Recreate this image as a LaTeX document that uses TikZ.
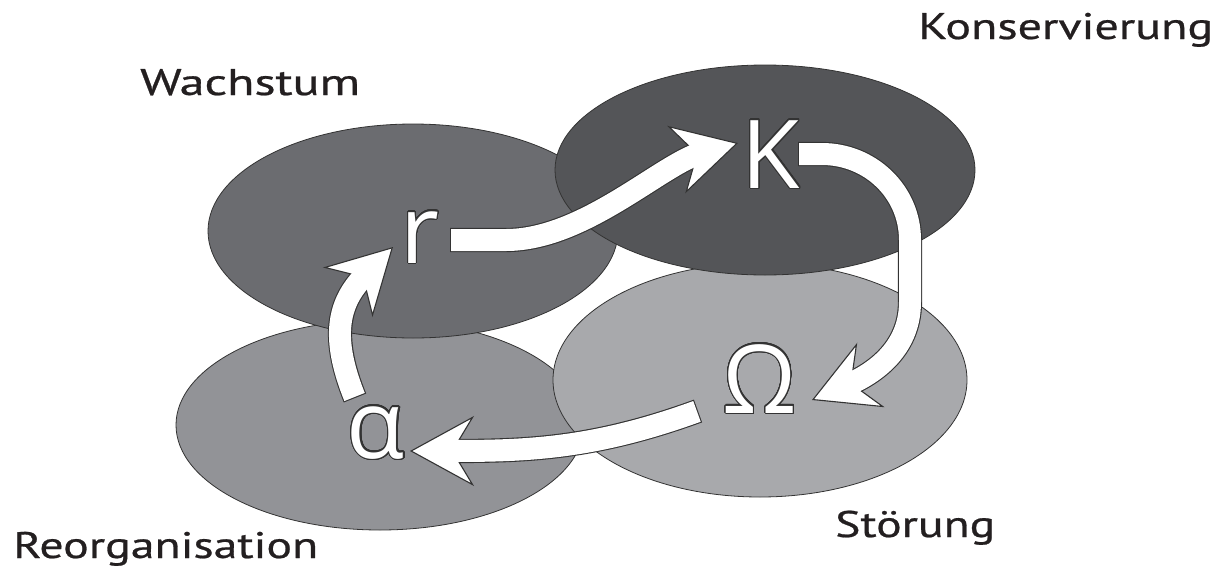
\documentclass[tikz,border=0pt]{standalone}
\usepackage{fontspec}
\usepackage{graphicx}
\usepackage{contour}
\usetikzlibrary{arrows.meta}
\newfontfamily\labfont[FakeBold=0.6]{PT Sans}
\newfontfamily\bigfont{Open Sans}
\contourlength{1.1pt}
\contournumber{40}
\definecolor{edge}{HTML}{333333}
\definecolor{cW}{HTML}{6B6C70}
\definecolor{cK}{HTML}{545558}
\definecolor{cR}{HTML}{929397}
\definecolor{cS}{HTML}{A8A9AC}
\definecolor{txt}{HTML}{231F20}
\newcommand\fatarrow[1]{%
  \draw[shaftout] #1;
  \draw[headonly] #1;
  \draw[shaftin] #1;}
\begin{document}
\begin{tikzpicture}[x=1pt,y=-1pt,
  blob/.style={draw=edge, line width=0.8pt},
  lab/.style={anchor=base west, inner sep=0pt, text=txt, font=\labfont\fontsize{37}{40}\selectfont},
  big/.style={anchor=base, inner sep=0pt, text=white, font=\bigfont\fontsize{95}{100}\selectfont},
  shaftout/.style={draw=edge, line width=24.2pt, shorten >=37pt},
  shaftin/.style={draw=white, line width=22pt, shorten >=37pt, shorten <=1.1pt},
  headonly/.style={draw=white, line width=0.4pt, shorten <=4pt,
    -{Stealth[length=64pt,width=70pt,inset=21pt,line width=1.1pt,color=edge,fill=white]}},
]
\useasboundingbox (0,0) rectangle (1227,574);
% ellipses
\filldraw[blob, fill=cR] (380,425) ellipse [x radius=204pt, y radius=105pt];
\filldraw[blob, fill=cS] (760,380) ellipse [x radius=207pt, y radius=117pt];
\filldraw[blob, fill=cW] (413,231) ellipse [x radius=205pt, y radius=107pt];
\filldraw[blob, fill=cK] (765,170) ellipse [x radius=210pt, y radius=105pt];
% labels
\node[lab] (wachstum) at (140,95) {\resizebox{220pt}{\height}{Wachstum}};
\node[lab] (konserv) at (918,39) {\resizebox{295pt}{\height}{Konservierung}};
\node[lab] (reorg) at (13,558) {\resizebox{305pt}{\height}{Reorganisation}};
\node[lab] (stoerung) at (835,537) {\resizebox{160pt}{\height}{Störung}};
% big letters
\node[big] (r) at (420,263) {\contour{edge}{r}};
\node[big] (K) at (771,188) {\contour{edge}{K}};
\node[big] (Om) at (760,413) {\contour{edge}{Ω}};
\node[big] (al) at (376,458) {\contour{edge}{α}};
% arrow end points
\coordinate (r-out) at (450,240);
\coordinate (r-bend) at (506,240);
\coordinate (K-in) at (738,143);
\coordinate (K-out) at (798,154);
\coordinate (K-bend) at (822,154);
\coordinate (S-bend1) at (910,240);
\coordinate (S-bend2) at (910,302);
\coordinate (Om-in) at (812,400);
\coordinate (Om-out) at (698,411);
\coordinate (al-in) at (410,451);
\coordinate (al-out) at (355,398);
\coordinate (r-in) at (393,247);
% arrows (angles in the visual, y-up sense)
\fatarrow{(r-out) -- (r-bend) to[out=0,in=195,looseness=0.8] (K-in)}
\fatarrow{(K-out) -- (K-bend) to[out=0,in=90] (S-bend1) -- (S-bend2) to[out=-90,in=23] (Om-in)}
\fatarrow{(Om-out) to[out=200,in=0] (al-in)}
\fatarrow{(al-out) to[out=112,in=-135,looseness=1.2] (r-in)}
\end{tikzpicture}
\end{document}
